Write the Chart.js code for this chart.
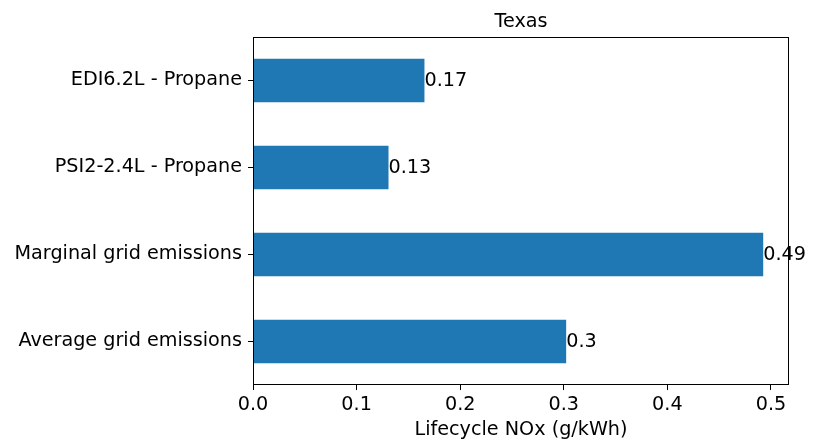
<!DOCTYPE html>
<html>
<head>
<meta charset="utf-8">
<script src="https://cdn.jsdelivr.net/npm/chart.js@4"></script>
<style>
  html, body { margin: 0; padding: 0; background: #fff; }
  #wrap { width: 813px; height: 440px; }
</style>
</head>
<body>
<div id="wrap"><canvas id="c" width="813" height="440"></canvas></div>
<script>
// data
const categories = ['EDI6.2L - Propane', 'PSI2-2.4L - Propane', 'Marginal grid emissions', 'Average grid emissions'];
const noxValues = [0.1655, 0.1308, 0.4925, 0.3023];
const valueLabels = ['0.17', '0.13', '0.49', '0.3'];
const xMax = 0.5174;
const chartTitle = 'Texas';

const FONT = 'DejaVu Sans';
const FS = 19.2;

// plot frame, title over the axes, value labels
const framePlugin = {
  id: 'frame',
  afterDraw(chart) {
    const { ctx, chartArea: a } = chart;
    ctx.save();
    ctx.strokeStyle = '#000';
    ctx.lineWidth = 1;
    ctx.strokeRect(a.left + 0.5, a.top + 0.5, a.right - a.left - 1, a.bottom - a.top - 1);
    ctx.fillStyle = '#000';
    ctx.font = FS + 'px "' + FONT + '"';
    ctx.textBaseline = 'middle';
    ctx.textAlign = 'center';
    ctx.fillText(chartTitle, (a.left + a.right) / 2, a.top - 15);
    ctx.textAlign = 'left';
    chart.getDatasetMeta(0).data.forEach((bar, i) => {
      ctx.fillText(valueLabels[i], bar.x, bar.y + 1);
    });
    ctx.restore();
  }
};

new Chart(document.getElementById('c'), {
  type: 'bar',
  data: {
    labels: categories,
    datasets: [{
      data: noxValues,
      backgroundColor: '#1f77b4',
      barPercentage: 0.5,
      categoryPercentage: 1.0
    }]
  },
  options: {
    indexAxis: 'y',
    responsive: false,
    animation: false,
    layout: { padding: { top: 37, right: 24, bottom: 0, left: 0 } },
    plugins: {
      legend: { display: false },
      tooltip: { enabled: false },
      title: { display: false }
    },
    scales: {
      x: {
        min: 0, max: xMax,
        afterFit(s) { s.height = 55; },
        border: { display: false },
        grid: { drawOnChartArea: false, color: '#000', tickLength: 5, tickWidth: 1 },
        ticks: {
          stepSize: 0.1, includeBounds: false, color: '#000', padding: 3,
          font: { family: FONT, size: FS },
          callback: v => Number(v).toFixed(1)
        },
        title: {
          display: true, text: 'Lifecycle NOx (g/kWh)', color: '#000',
          font: { family: FONT, size: FS, lineHeight: 1 }, padding: { top: 0, bottom: 0 }
        }
      },
      y: {
        afterFit(s) { s.width = 253; },
        border: { display: false },
        grid: { drawOnChartArea: false, offset: false, color: '#000', tickLength: 5, tickWidth: 1 },
        ticks: { color: '#000', padding: 6, font: { family: FONT, size: FS } }
      }
    }
  },
  plugins: [framePlugin]
});
</script>
</body>
</html>
